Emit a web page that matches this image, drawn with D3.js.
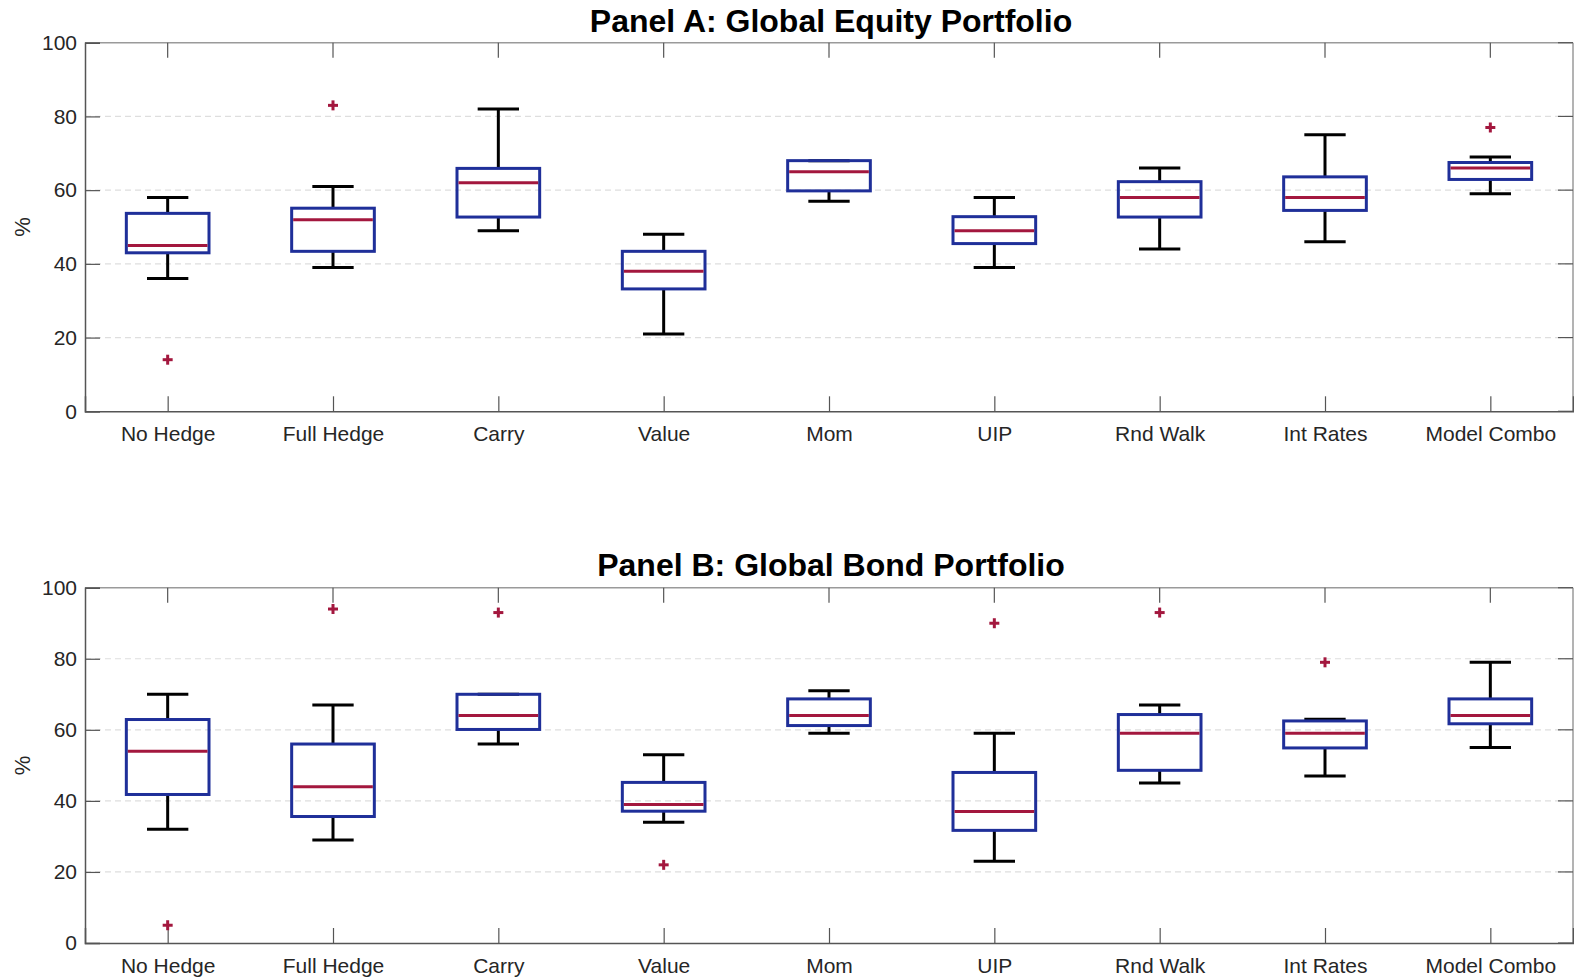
<!DOCTYPE html>
<html>
<head>
<meta charset="utf-8">
<script src="https://cdn.jsdelivr.net/npm/d3@7/dist/d3.min.js"></script>
<style>
  html, body { margin: 0; padding: 0; background: #ffffff; }
  svg { display: block; }
  text { font-family: "Liberation Sans", Arial, Helvetica, sans-serif; }
</style>
</head>
<body>
<svg id="chart" width="1574" height="979"></svg>
<script>
// Strategy names along the x axis
const categories = ["No Hedge", "Full Hedge", "Carry", "Value", "Mom", "UIP", "Rnd Walk", "Int Rates", "Model Combo"];
const yTicks = [0, 20, 40, 60, 80, 100];
const gridTicks = [20, 40, 60, 80];

// Panel A: global equity portfolio (%), box-plot statistics per strategy
const equityLow      = [36, 39, 49, 21, 57, 39, 44, 46, 59];
const equityQ1       = [43, 43.4, 52.7, 33.2, 59.8, 45.5, 52.7, 54.5, 62.9];
const equityMedian   = [45, 52, 62, 38, 65, 49, 58, 58, 66];
const equityQ3       = [53.7, 55.1, 65.9, 43.4, 68, 52.8, 62.3, 63.6, 67.5];
const equityHigh     = [58, 61, 82, 48, 68, 58, 66, 75, 69];
const equityOutliers = [[14], [83], [], [], [], [], [], [], [77]];

// Panel B: global bond portfolio (%)
const bondLow      = [32, 29, 56, 34, 59, 23, 45, 47, 55];
const bondQ1       = [41.8, 35.6, 60.1, 37.1, 61.2, 31.7, 48.6, 54.9, 61.7];
const bondMedian   = [54, 44, 64, 39, 64, 37, 59, 59, 64];
const bondQ3       = [62.9, 56, 70, 45.2, 68.7, 48, 64.3, 62.5, 68.7];
const bondHigh     = [70, 67, 70, 53, 71, 59, 67, 63, 79];
const bondOutliers = [[5], [94], [93], [22], [], [90], [93], [79], []];

const panels = [
  { title: "Panel A: Global Equity Portfolio", top: 42.7, bottom: 411.3, titleY: 31.5,
    low: equityLow, q1: equityQ1, med: equityMedian, q3: equityQ3, high: equityHigh, out: equityOutliers },
  { title: "Panel B: Global Bond Portfolio", top: 587.7, bottom: 943, titleY: 576,
    low: bondLow, q1: bondQ1, med: bondMedian, q3: bondQ3, high: bondHigh, out: bondOutliers }
];

const left = 85, right = 1573;
const boxColor = "#1f2f99";
const medColor = "#a3173e";
const axisColor = "#555555";
const topColor = "#9a9a9a";
const textColor = "#262626";
const tickLen = 15;
const lw = 3;

const svg = d3.select("#chart");

// Positions 1..9 inside [0.5, 9.5]
const x = d3.scaleLinear().domain([0.5, categories.length + 0.5]).range([left, right]);
const step = x(2) - x(1);
const boxW = step * 0.5;
const capW = step * 0.25;

panels.forEach(p => {
  const y = d3.scaleLinear().domain([0, 100]).range([p.bottom, p.top]);
  const g = svg.append("g");

  // dashed horizontal grid
  g.selectAll("line.grid").data(gridTicks).join("line")
    .attr("x1", left).attr("x2", right)
    .attr("y1", d => y(d)).attr("y2", d => y(d))
    .attr("stroke", "#dedede").attr("stroke-width", 1.2)
    .attr("stroke-dasharray", "6,4");

  // frame: top and right (light)
  g.append("line").attr("x1", left).attr("x2", right).attr("y1", p.top).attr("y2", p.top)
    .attr("stroke", topColor).attr("stroke-width", 1.5);
  g.append("line").attr("x1", right).attr("x2", right).attr("y1", p.top).attr("y2", p.bottom)
    .attr("stroke", topColor).attr("stroke-width", 1.5);

  // bottom axis with inward ticks
  const xAxis = d3.axisBottom(x).tickValues(d3.range(1, categories.length + 1))
    .tickSize(-tickLen).tickPadding(15).tickFormat(d => categories[d - 1]);
  const gx = g.append("g").attr("transform", `translate(0,${p.bottom})`).call(xAxis);
  gx.select(".domain").attr("stroke", axisColor).attr("stroke-width", 1.5);
  gx.selectAll(".tick line").attr("stroke", axisColor).attr("stroke-width", 1.2);
  gx.selectAll(".tick text").attr("fill", textColor).attr("font-size", 21)
    .attr("font-family", "Liberation Sans, Arial, sans-serif");

  // top x ticks pointing inward
  g.selectAll("line.ttick").data(d3.range(1, categories.length + 1)).join("line")
    .attr("x1", d => x(d)).attr("x2", d => x(d))
    .attr("y1", p.top).attr("y2", p.top + tickLen)
    .attr("stroke", axisColor).attr("stroke-width", 1.2);

  // left axis with inward ticks
  const yAxis = d3.axisLeft(y).tickValues(yTicks).tickSize(-tickLen).tickPadding(8);
  const gy = g.append("g").attr("transform", `translate(${left},0)`).call(yAxis);
  gy.select(".domain").attr("stroke", axisColor).attr("stroke-width", 1.5);
  gy.selectAll(".tick line").attr("stroke", axisColor).attr("stroke-width", 1.2);
  gy.selectAll(".tick text").attr("fill", textColor).attr("font-size", 21)
    .attr("font-family", "Liberation Sans, Arial, sans-serif");

  // right y ticks pointing inward
  g.selectAll("line.rtick").data(yTicks).join("line")
    .attr("x1", right - tickLen).attr("x2", right)
    .attr("y1", d => y(d)).attr("y2", d => y(d))
    .attr("stroke", axisColor).attr("stroke-width", 1.2);

  // y label
  g.append("text")
    .attr("transform", `translate(30,${(p.top + p.bottom) / 2}) rotate(-90)`)
    .attr("text-anchor", "middle").attr("fill", textColor).attr("font-size", 22)
    .text("%");

  // title
  g.append("text")
    .attr("x", (left + right) / 2 + 2).attr("y", p.titleY)
    .attr("text-anchor", "middle").attr("font-weight", "bold").attr("font-size", 32)
    .attr("fill", "#000").text(p.title);

  const idx = d3.range(categories.length);
  const boxes = g.append("g");

  // whiskers
  boxes.selectAll("line.wlo").data(idx).join("line")
    .attr("x1", i => x(i + 1)).attr("x2", i => x(i + 1))
    .attr("y1", i => y(p.q1[i])).attr("y2", i => y(p.low[i]))
    .attr("stroke", "#000").attr("stroke-width", lw);
  boxes.selectAll("line.whi").data(idx).join("line")
    .attr("x1", i => x(i + 1)).attr("x2", i => x(i + 1))
    .attr("y1", i => y(p.q3[i])).attr("y2", i => y(p.high[i]))
    .attr("stroke", "#000").attr("stroke-width", lw);
  // caps
  boxes.selectAll("line.clo").data(idx).join("line")
    .attr("x1", i => x(i + 1) - capW / 2).attr("x2", i => x(i + 1) + capW / 2)
    .attr("y1", i => y(p.low[i])).attr("y2", i => y(p.low[i]))
    .attr("stroke", "#000").attr("stroke-width", lw);
  boxes.selectAll("line.chi").data(idx).join("line")
    .attr("x1", i => x(i + 1) - capW / 2).attr("x2", i => x(i + 1) + capW / 2)
    .attr("y1", i => y(p.high[i])).attr("y2", i => y(p.high[i]))
    .attr("stroke", "#000").attr("stroke-width", lw);

  // boxes
  boxes.selectAll("rect.box").data(idx).join("rect")
    .attr("x", i => x(i + 1) - boxW / 2).attr("width", boxW)
    .attr("y", i => y(p.q3[i])).attr("height", i => y(p.q1[i]) - y(p.q3[i]))
    .attr("fill", "none").attr("stroke", boxColor).attr("stroke-width", lw);

  // medians
  boxes.selectAll("line.med").data(idx).join("line")
    .attr("x1", i => x(i + 1) - boxW / 2 + 1.5).attr("x2", i => x(i + 1) + boxW / 2 - 1.5)
    .attr("y1", i => y(p.med[i])).attr("y2", i => y(p.med[i]))
    .attr("stroke", medColor).attr("stroke-width", lw);

  // outliers as '+' marks
  const outPts = [];
  p.out.forEach((arr, i) => arr.forEach(v => outPts.push({ i, v })));
  const plus = boxes.selectAll("g.out").data(outPts).join("g")
    .attr("transform", d => `translate(${x(d.i + 1)},${y(d.v)})`);
  plus.append("line").attr("x1", -5).attr("x2", 5).attr("y1", 0).attr("y2", 0)
    .attr("stroke", medColor).attr("stroke-width", 3);
  plus.append("line").attr("x1", 0).attr("x2", 0).attr("y1", -5).attr("y2", 5)
    .attr("stroke", medColor).attr("stroke-width", 3);
});
</script>
</body>
</html>
